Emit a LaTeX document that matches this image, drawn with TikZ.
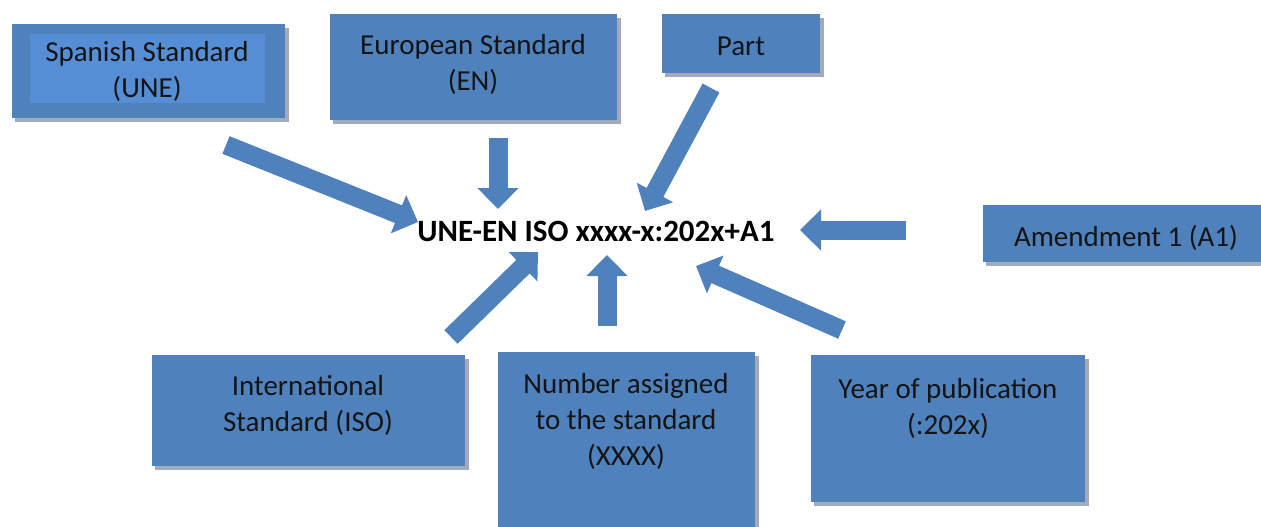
\documentclass[tikz,border=0pt]{standalone}
\usepackage{fontspec}
\setmainfont{Carlito}
\usetikzlibrary{arrows.meta}
\definecolor{boxblue}{HTML}{4F81BD}
\definecolor{innerblue}{HTML}{558ED5}
\definecolor{shadowgray}{HTML}{A3ABBA}
\definecolor{txt}{HTML}{141414}
\tikzset{
  box/.style={fill=boxblue, draw=none, inner sep=0pt, outer sep=0pt},
  boxtext/.style={font=\fontsize{29}{36}\selectfont, text=txt, align=center, inner sep=0pt},
  maintext/.style={font=\fontsize{31}{36}\selectfont\bfseries, text=black, inner sep=0pt},
  blockarrow/.style={draw=boxblue, line width=19pt, -{Triangle[width=40pt,length=21pt]}},
}
\begin{document}
\begin{tikzpicture}[x=1pt,y=-1pt]
\useasboundingbox (0,0) rectangle (1261,527);
% shadows
\fill[shadowgray] (15,28) rectangle (289,122);
\fill[shadowgray] (333,18) rectangle (621,124);
\fill[shadowgray] (665,18) rectangle (824,77);
\fill[shadowgray] (986,209) rectangle (1264,266);
\fill[shadowgray] (155,359) rectangle (469,470);
\fill[shadowgray] (501,356) rectangle (759,531);
\fill[shadowgray] (814,359) rectangle (1089,506);
% boxes
\path[box] (12,24) rectangle (285,118);
\node[box, fill=innerblue, minimum width=235pt, minimum height=69pt, anchor=north west] (spaninner) at (30,34) {};
\path[box] (330,14) rectangle (617,120);
\path[box] (662,14) rectangle (820,73);
\path[box] (983,205) rectangle (1261,262);
\path[box] (152,355) rectangle (465,466);
\path[box] (498,352) rectangle (755,527);
\path[box] (811,355) rectangle (1085,502);
% texts
\node[boxtext] (une) at (147,71) {Spanish Standard\\(UNE)};
\node[boxtext] (en) at (473,64) {European Standard\\(EN)};
\node[boxtext] (part) at (741,46) {Part};
\node[boxtext] (amd) at (1126,238) {Amendment 1 (A1)};
\node[boxtext] (iso) at (308,405) {International\\Standard (ISO)};
\node[boxtext] (num) at (626,421) {Number assigned\\to the standard\\(XXXX)};
\node[boxtext] (year) at (948,408) {Year of publication\\(:202x)};
\node[maintext] (code) at (596,231) {UNE-EN ISO xxxx-x:202x+A1};
% arrow ends
\coordinate (t1) at (226,145); \coordinate (h1) at (418,222);
\coordinate (t2) at (498,138); \coordinate (h2) at (498,209);
\coordinate (t3) at (711,88);  \coordinate (h3) at (645,211);
\coordinate (t4) at (906,230); \coordinate (h4) at (800,230);
\coordinate (t5) at (451,337); \coordinate (h5) at (538,252);
\coordinate (t6) at (607,326); \coordinate (h6) at (607,255);
\coordinate (t7) at (842,330); \coordinate (h7) at (696,266);
\foreach \i in {1,...,7} { \draw[blockarrow] (t\i) -- (h\i); }
\end{tikzpicture}
\end{document}
